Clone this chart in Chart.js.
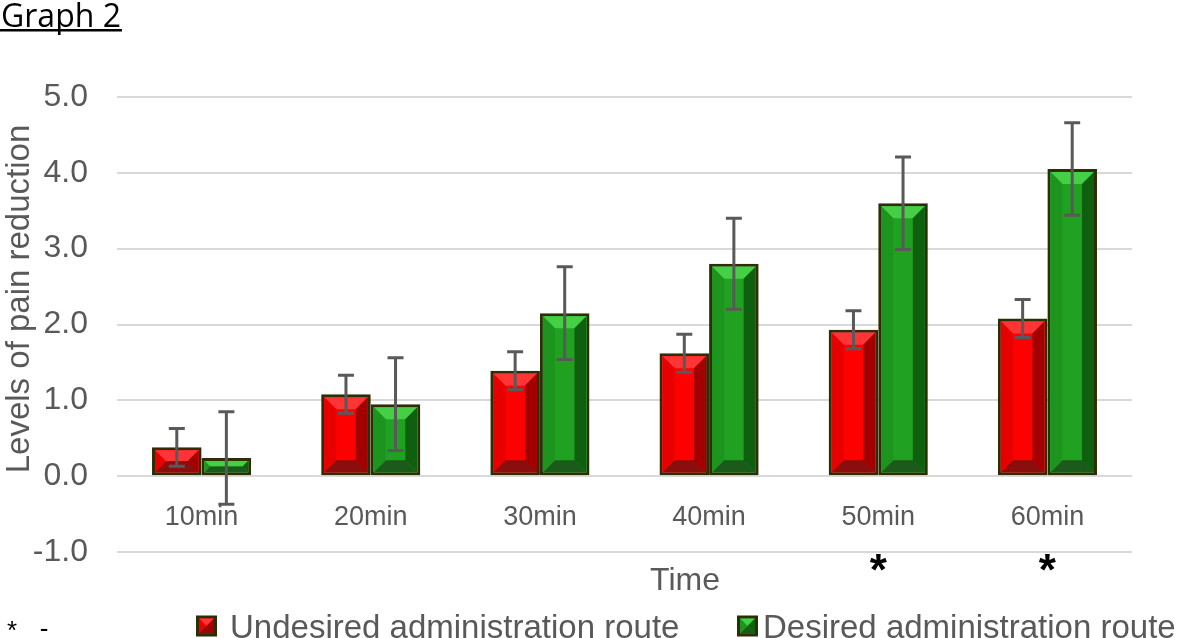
<!DOCTYPE html>
<html><head><meta charset="utf-8">
<script src="https://cdn.jsdelivr.net/npm/chart.js@4/dist/chart.umd.min.js"></script>
<style>html,body{margin:0;padding:0;background:#fff}</style>
</head><body>
<canvas id="c" width="1181" height="638"></canvas>
<script>
// ---- data ----
const categories = ['10min', '20min', '30min', '40min', '50min', '60min'];
const seriesNames = ['Undesired administration route', 'Desired administration route'];
const undesired = [0.38, 1.08, 1.39, 1.62, 1.93, 2.08];
const desired = [0.24, 0.95, 2.15, 2.80, 3.60, 4.05];
const undesiredErr = [0.25, 0.25, 0.25, 0.25, 0.25, 0.25];
const desiredErr = [0.61, 0.61, 0.61, 0.60, 0.61, 0.61];
const significance = ['', '', '', '', '*', '*'];
const yTickValues = [-1, 0, 1, 2, 3, 4, 5];
const chartTitle = 'Graph 2';
const yTitle = 'Levels of pain reduction';
const xTitle = 'Time';
const footnote = ['*', '-'];

// ---- styles ----
const FONT = "'Liberation Sans', Arial, sans-serif";
const GREY = '#595959';
const palettes = [
  { face: '#FF0000', top: '#FF3434', left: '#E60000', right: '#A20000', bottom: '#8A0E0E' },
  { face: '#21A121', top: '#44CF44', left: '#1D941D', right: '#0E600F', bottom: '#1B5A1B' }
];
const BORDER = '#2d2d08';

function drawBevel(ctx, l, t, r, b, pal, size) {
  const w = r - l, h = b - t;
  const s = Math.max(0, Math.min(size, w / 2, h / 2));
  ctx.save();
  ctx.fillStyle = pal.face;
  ctx.fillRect(l, t, w, h);
  const poly = (pts, c) => {
    ctx.beginPath();
    ctx.moveTo(pts[0][0], pts[0][1]);
    for (let i = 1; i < pts.length; i++) ctx.lineTo(pts[i][0], pts[i][1]);
    ctx.closePath();
    ctx.fillStyle = c;
    ctx.fill();
  };
  poly([[l, t], [r, t], [r - s, t + s], [l + s, t + s]], pal.top);
  poly([[l, b], [r, b], [r - s, b - s], [l + s, b - s]], pal.bottom);
  poly([[l, t], [l + s, t + s], [l + s, b - s], [l, b]], pal.left);
  poly([[r, t], [r - s, t + s], [r - s, b - s], [r, b]], pal.right);
  ctx.restore();
}

function drawCentered(ctx, text, cx, cy, font, color, align) {
  ctx.save();
  ctx.font = font;
  ctx.fillStyle = color;
  ctx.textAlign = align || 'center';
  ctx.textBaseline = 'alphabetic';
  const m = ctx.measureText(text);
  const y = cy + (m.actualBoundingBoxAscent - m.actualBoundingBoxDescent) / 2;
  ctx.fillText(text, cx, y);
  ctx.restore();
  return m.width;
}

const decor = {
  id: 'decor',
  afterDatasetsDraw(chart) {
    const ctx = chart.ctx;
    const yScale = chart.scales.y;
    const errs = [undesiredErr, desiredErr];
    chart.data.datasets.forEach((ds, di) => {
      const meta = chart.getDatasetMeta(di);
      meta.data.forEach((el) => {
        const p = el.getProps(['x', 'y', 'base', 'width'], true);
        const bw = 3;
        const l = p.x - p.width / 2 + bw, r = p.x + p.width / 2 - bw;
        const t = Math.min(p.y, p.base) + bw, b = Math.max(p.y, p.base) - bw;
        drawBevel(ctx, l, t, r, b, palettes[di], 12);
      });
    });
    // error bars
    ctx.save();
    ctx.strokeStyle = GREY;
    ctx.lineWidth = 3;
    chart.data.datasets.forEach((ds, di) => {
      const meta = chart.getDatasetMeta(di);
      meta.data.forEach((el, i) => {
        const v = ds.data[i], e = errs[di][i];
        const x = el.x;
        const yt = yScale.getPixelForValue(v + e);
        const yb = yScale.getPixelForValue(v - e);
        ctx.beginPath();
        ctx.moveTo(x, yt); ctx.lineTo(x, yb);
        ctx.moveTo(x - 8, yt); ctx.lineTo(x + 8, yt);
        ctx.moveTo(x - 8, yb); ctx.lineTo(x + 8, yb);
        ctx.stroke();
      });
    });
    ctx.restore();
  },
  afterDraw(chart) {
    const ctx = chart.ctx;
    const xScale = chart.scales.x;
    // title with underline
    ctx.save();
    ctx.font = "32px 'Open Sans', sans-serif";
    ctx.fillStyle = '#000';
    ctx.textBaseline = 'alphabetic';
    ctx.fillText(chartTitle, 1, 27);
    const tw = ctx.measureText(chartTitle).width;
    ctx.fillRect(0, 29, tw + 2, 2.5);
    ctx.restore();
    // y title
    ctx.save();
    ctx.translate(20, 299);
    ctx.rotate(-Math.PI / 2);
    drawCentered(ctx, yTitle, 0, 0, '33px ' + FONT, GREY);
    ctx.restore();
    // x title
    drawCentered(ctx, xTitle, 685, 578, '32px ' + FONT, GREY);
    // significance marks
    significance.forEach((s, i) => {
      if (s) drawCentered(ctx, s, xScale.getPixelForValue(i), 562, 'bold 44px ' + FONT, '#000');
    });
    // footnote
    drawCentered(ctx, footnote[0], 12, 626, '26px ' + FONT, '#000');
    drawCentered(ctx, footnote[1], 44, 629, '26px ' + FONT, '#000');
    // legend
    const cy = 626;
    const items = [
      { boxX: 196, gap: 13 },
      { boxX: 737, gap: 5 }
    ];
    chart.data.datasets.forEach((ds, di) => {
      const it = items[di];
      const bx = it.boxX, bs = 21;
      ctx.save();
      ctx.fillStyle = BORDER;
      ctx.fillRect(bx, cy - bs / 2, bs, bs);
      ctx.restore();
      drawBevel(ctx, bx + 3, cy - bs / 2 + 3, bx + bs - 3, cy + bs / 2 - 3, palettes[di], 7);
      drawCentered(ctx, ds.label, bx + bs + it.gap, cy, '33px ' + FONT, GREY, 'left');
    });
  }
};

new Chart(document.getElementById('c'), {
  type: 'bar',
  data: {
    labels: categories,
    datasets: [
      { label: seriesNames[0], data: undesired, backgroundColor: palettes[0].face, borderColor: BORDER, borderWidth: 3, borderSkipped: false },
      { label: seriesNames[1], data: desired, backgroundColor: palettes[1].face, borderColor: BORDER, borderWidth: 3, borderSkipped: false }
    ]
  },
  options: {
    responsive: false,
    animation: false,
    devicePixelRatio: 1,
    layout: { padding: { top: 97, bottom: 86, left: 0, right: 49 } },
    datasets: { bar: { categoryPercentage: 0.586, barPercentage: 1 } },
    plugins: { legend: { display: false }, tooltip: { enabled: false }, title: { display: false } },
    scales: {
      x: {
        type: 'category',
        position: { y: 0 },
        offset: true,
        grid: { display: false, drawTicks: false },
        border: { display: false },
        ticks: { color: GREY, font: { family: FONT, size: 27 }, padding: 25, maxRotation: 0, autoSkip: false }
      },
      y: {
        min: -1, max: 5,
        afterBuildTicks: (s) => { s.ticks = yTickValues.map(v => ({ value: v })); },
        afterFit: (s) => { s.width = 117; },
        grid: { color: '#d9d9d9', lineWidth: 2, drawTicks: false },
        border: { display: false },
        ticks: { color: GREY, font: { family: FONT, size: 32 }, padding: 29, callback: (v) => Number(v).toFixed(1) }
      }
    }
  },
  plugins: [decor]
});
</script>
</body></html>
